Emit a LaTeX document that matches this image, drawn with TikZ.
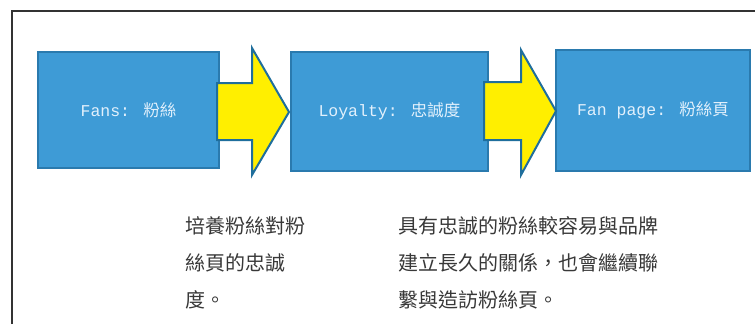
\documentclass[tikz,border=0pt]{standalone}
\usepackage{fontspec}
\setmainfont{Liberation Mono}
\newfontfamily\cjk{Noto Sans CJK TC}
\newfontfamily\latn{Liberation Mono}
\definecolor{boxfill}{HTML}{3E9BD6}
\definecolor{boxline}{HTML}{2A7AAE}
\definecolor{arrfill}{HTML}{FFEF00}
\definecolor{arrline}{HTML}{1F6E9C}
\definecolor{labtext}{HTML}{E2F0FC}
\definecolor{bodytext}{HTML}{383838}
\begin{document}
\begin{tikzpicture}[x=1pt,y=-1pt,
  bluebox/.style={draw=boxline,fill=boxfill,line width=1.2pt,text=labtext,
    font=\fontsize{16.5}{18}\selectfont},
  bigarrow/.style={draw=arrline,fill=arrfill,line width=2pt,line join=miter},
  bodyblock/.style={anchor=west,inner sep=0pt,align=left,text=bodytext,
    font=\cjk\fontsize{20}{37}\selectfont}]
\useasboundingbox (0,0) rectangle (755,324);
% frame
\draw[line width=1.4pt,color=black!80] (12,324) -- (12,11) -- (755,11);
% boxes
\node[bluebox,minimum width=181pt,minimum height=116pt] (b1) at (128.5,110)
  {{\latn Fans:} {\cjk 粉絲}};
\node[bluebox,minimum width=197pt,minimum height=119pt] (b2) at (389.5,111.5)
  {{\latn Loyalty:} {\cjk 忠誠度}};
\node[bluebox,minimum width=194pt,minimum height=121pt] (b3) at (653,110.5)
  {{\latn Fan page:} {\cjk 粉絲頁}};
% arrows
\draw[bigarrow] (217,83) -- (252,83) -- (252,48) -- (289,112) -- (252,175)
  -- (252,140) -- (217,140) -- cycle;
\draw[bigarrow] (484,82) -- (521,82) -- (521,50) -- (556,111) -- (521,175)
  -- (521,140) -- (484,140) -- cycle;
% text blocks
\node[bodyblock] (t1) at (185,263) {培養粉絲對粉\\絲頁的忠誠\\度。};
\node[bodyblock] (t2) at (398,263) {具有忠誠的粉絲較容易與品牌\\建立長久的關係，也會繼續聯\\繫與造訪粉絲頁。};
\end{tikzpicture}
\end{document}
